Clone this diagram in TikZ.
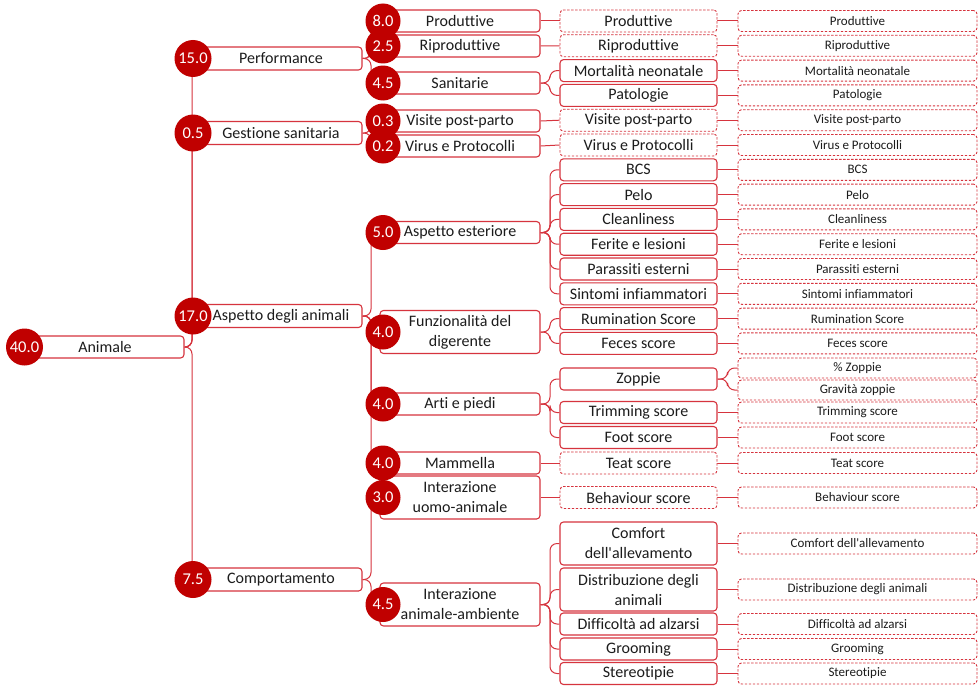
\documentclass[tikz,border=0pt]{standalone}
\usepackage{fontspec}
\setmainfont{Carlito}[Ligatures={TeXOff,CommonOff}]
\usetikzlibrary{calc}
\definecolor{dred}{RGB}{192,0,0}
\definecolor{lred}{RGB}{214,52,62}
\definecolor{ink}{RGB}{28,28,28}
\pgfdeclarelayer{bg}
\pgfsetlayers{bg,main}
\tikzset{
  base/.style={fill=white, rounded corners=3.5pt, inner sep=0pt, text=ink, align=center},
  sbox/.style={base, draw=lred, line width=1.1pt},
  dbox/.style={base, draw=lred, line width=0.9pt, dash pattern=on 2.4pt off 1.6pt},
  txt/.style={font=\fontsize{16}{20}\selectfont},
  smalltxt/.style={font=\fontsize{13}{15}\selectfont},
  k0/.style={sbox, txt, minimum width=158pt, minimum height=22pt},
  k1/.style={sbox, txt, minimum width=162pt, minimum height=23pt},
  k2/.style={sbox, txt, minimum width=160pt, minimum height=22pt},
  k2w/.style={k2, minimum height=43pt},
  k3/.style={sbox, txt, minimum width=157pt, minimum height=22pt},
  k3w/.style={k3, minimum height=43pt},
  k3d/.style={dbox, txt, minimum width=157pt, minimum height=22pt},
  k4/.style={dbox, smalltxt, minimum width=239pt, minimum height=21pt},
  k4s/.style={k4, minimum height=20pt},
  val/.style={circle, fill=dred, text=white, inner sep=0pt, minimum size=37pt,
    font=\fontsize{16.5}{18}\selectfont},
  val2/.style={val, minimum size=35pt},
  link/.style={draw=lred, line width=1pt, rounded corners=7pt},
  brace/.style={to path={-- ($(\tikztostart)!0.5!(\tikztostart -| \tikztotarget)$) |- (\tikztotarget) \tikztonodes}},
}
\begin{document}
\begin{tikzpicture}[x=1pt, y=-1pt]
\useasboundingbox (0,0) rectangle (979,685);

% ---- root ----
\node[k0] (anim) at (105,347) {Animale};
\node[val] (v-anim) at (24.5,347) {40.0};

% ---- first level ----
\node[k1] (perf) at (281,58.5) {Performance};
\node[k1] (gest) at (281,133) {Gestione sanitaria};
\node[k1] (aspe) at (281,316) {Aspetto degli animali};
\node[k1] (comp) at (281,579.5) {Comportamento};
\node[val] (v-perf) at (193,58.5) {15.0};
\node[val] (v-gest) at (193,133) {0.5};
\node[val] (v-aspe) at (193,316) {17.0};
\node[val] (v-comp) at (193,579.5) {7.5};

% ---- second level ----
\node[k2] (prod) at (460,21) {Produttive};
\node[k2] (ripr) at (460,46) {Riproduttive};
\node[k2] (sani) at (460,83) {Sanitarie};
\node[k2] (visi) at (460,121) {Visite post-parto};
\node[k2] (viru) at (460,146) {Virus e Protocolli};
\node[k2] (este) at (460,232.5) {Aspetto esteriore};
\node[k2w] (dige) at (460,332) {Funzionalità del\\digerente};
\node[k2] (arti) at (460,404) {Arti e piedi};
\node[k2] (mamm) at (460,463) {Mammella};
\node[k2w] (uomo) at (460,497.5) {Interazione\\uomo-animale};
\node[k2w] (ambi) at (460,604.5) {Interazione\\animale-ambiente};
\node[val2] (v-prod) at (383,21) {8.0};
\node[val2] (v-ripr) at (383,46) {2.5};
\node[val2] (v-sani) at (383,83) {4.5};
\node[val2] (v-visi) at (383,121) {0.3};
\node[val2] (v-viru) at (383,146) {0.2};
\node[val2] (v-este) at (383,232.5) {5.0};
\node[val2] (v-dige) at (383,332) {4.0};
\node[val2] (v-arti) at (383,404) {4.0};
\node[val2] (v-mamm) at (383,463) {4.0};
\node[val2] (v-uomo) at (383,497.5) {3.0};
\node[val2] (v-ambi) at (383,604.5) {4.5};

% ---- third level ----
\node[k3d] (t-prod) at (638.5,21) {Produttive};
\node[k3d] (t-ripr) at (638.5,45.8) {Riproduttive};
\node[k3] (t-mort) at (638.5,70.6) {Mortalità neonatale};
\node[k3] (t-pato) at (638.5,95.4) {Patologie};
\node[k3d] (t-visi) at (638.5,120.2) {Visite post-parto};
\node[k3d] (t-viru) at (638.5,145) {Virus e Protocolli};
\node[k3] (t-bcs) at (638.5,169.8) {BCS};
\node[k3] (t-pelo) at (638.5,194.6) {Pelo};
\node[k3] (t-clea) at (638.5,219.4) {Cleanliness};
\node[k3] (t-feri) at (638.5,244.2) {Ferite e lesioni};
\node[k3] (t-para) at (638.5,269) {Parassiti esterni};
\node[k3] (t-sint) at (638.5,293.8) {Sintomi infiammatori};
\node[k3] (t-rumi) at (638.5,318.6) {Rumination Score};
\node[k3] (t-fece) at (638.5,343.4) {Feces score};
\node[k3] (t-zopp) at (638.5,379) {Zoppie};
\node[k3] (t-trim) at (638.5,412.5) {Trimming score};
\node[k3] (t-foot) at (638.5,437.5) {Foot score};
\node[k3d] (t-teat) at (638.5,463) {Teat score};
\node[k3d] (t-beha) at (638.5,497.5) {Behaviour score};
\node[k3w] (t-comf) at (638.5,543.5) {Comfort\\dell'allevamento};
\node[k3w] (t-dist) at (638.5,589.5) {Distribuzione degli\\animali};
\node[k3] (t-diff) at (638.5,624) {Difficoltà ad alzarsi};
\node[k3] (t-groo) at (638.5,649) {Grooming};
\node[k3] (t-ster) at (638.5,673.5) {Stereotipie};

% ---- indicators ----
\node[k4] (i-prod) at (857.5,21) {Produttive};
\node[k4] (i-ripr) at (857.5,45.8) {Riproduttive};
\node[k4] (i-mort) at (857.5,70.6) {Mortalità neonatale};
\node[k4] (i-pato) at (857.5,95.4) {Patologie};
\node[k4] (i-visi) at (857.5,120.2) {Visite post-parto};
\node[k4] (i-viru) at (857.5,145) {Virus e Protocolli};
\node[k4] (i-bcs) at (857.5,169.8) {BCS};
\node[k4] (i-pelo) at (857.5,194.6) {Pelo};
\node[k4] (i-clea) at (857.5,219.4) {Cleanliness};
\node[k4] (i-feri) at (857.5,244.2) {Ferite e lesioni};
\node[k4] (i-para) at (857.5,269) {Parassiti esterni};
\node[k4] (i-sint) at (857.5,293.8) {Sintomi infiammatori};
\node[k4] (i-rumi) at (857.5,318.6) {Rumination Score};
\node[k4] (i-fece) at (857.5,343.4) {Feces score};
\node[k4s] (i-pzop) at (857.5,368) {\% Zoppie};
\node[k4s] (i-gzop) at (857.5,390) {Gravità zoppie};
\node[k4] (i-trim) at (857.5,412.5) {Trimming score};
\node[k4] (i-foot) at (857.5,437.5) {Foot score};
\node[k4] (i-teat) at (857.5,463) {Teat score};
\node[k4] (i-beha) at (857.5,497.5) {Behaviour score};
\node[k4] (i-comf) at (857.5,543.5) {Comfort dell'allevamento};
\node[k4] (i-dist) at (857.5,589.5) {Distribuzione degli animali};
\node[k4] (i-diff) at (857.5,624) {Difficoltà ad alzarsi};
\node[k4] (i-groo) at (857.5,649) {Grooming};
\node[k4] (i-ster) at (857.5,673.5) {Stereotipie};

% ---- connectors (behind the boxes) ----
\begin{pgfonlayer}{bg}
\fill[white] (0,0) rectangle (979,685);
% root to first level
\foreach \c in {perf,gest,aspe,comp}
  \draw[link] (anim.east) to[brace] (\c.west);
% first to second level
\foreach \c in {prod,ripr,sani}
  \draw[link] (perf.east) to[brace] (\c.west);
\foreach \c in {visi,viru}
  \draw[link] (gest.east) to[brace] (\c.west);
\foreach \c in {este,dige,arti,mamm}
  \draw[link] (aspe.east) to[brace] (\c.west);
\foreach \c in {uomo,ambi}
  \draw[link] (comp.east) to[brace] (\c.west);
% second to third level
\draw[link] (prod.east) -- (t-prod.west);
\draw[link] (ripr.east) -- (t-ripr.west);
\foreach \c in {mort,pato}
  \draw[link] (sani.east) to[brace] (t-\c.west);
\draw[link] (visi.east) -- (t-visi.west);
\draw[link] (viru.east) -- (t-viru.west);
\foreach \c in {bcs,pelo,clea,feri,para,sint}
  \draw[link] (este.east) to[brace] (t-\c.west);
\foreach \c in {rumi,fece}
  \draw[link] (dige.east) to[brace] (t-\c.west);
\foreach \c in {zopp,trim,foot}
  \draw[link] (arti.east) to[brace] (t-\c.west);
\draw[link] (mamm.east) -- (t-teat.west);
\draw[link] (uomo.east) -- (t-beha.west);
\foreach \c in {comf,dist,diff,groo,ster}
  \draw[link] (ambi.east) to[brace] (t-\c.west);
% third level to indicators
\foreach \c in {prod,ripr,mort,pato,visi,viru,bcs,pelo,clea,feri,para,sint,rumi,fece,trim,foot,teat,beha,comf,dist,diff,groo,ster}
  \draw[link] (t-\c.east) -- (t-\c.east -| i-\c.west);
\foreach \c in {pzop,gzop}
  \draw[link] (t-zopp.east) to[brace] (i-\c.west);
\end{pgfonlayer}
\end{tikzpicture}
\end{document}
